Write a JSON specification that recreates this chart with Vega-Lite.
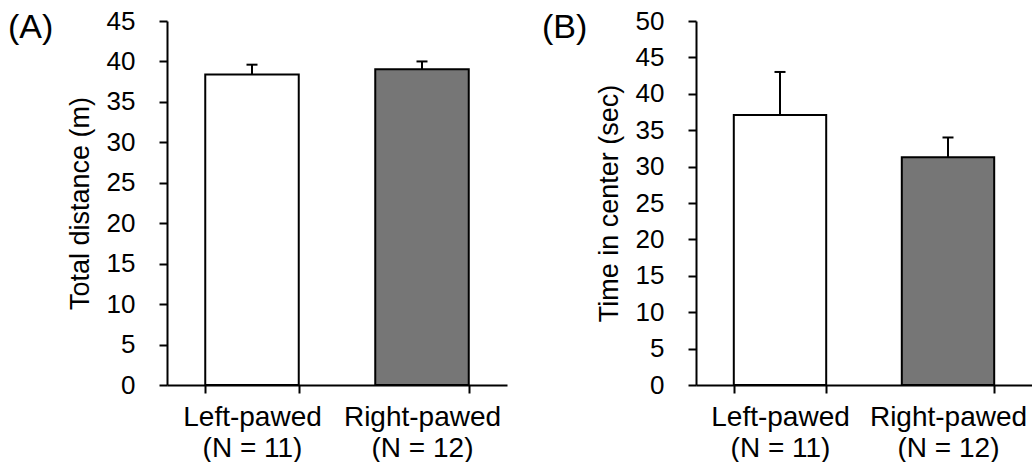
{
  "$schema": "https://vega.github.io/schema/vega-lite/v6.json",
  "background": "white",
  "padding": {"left": 8, "top": 8, "right": 0, "bottom": 0},
  "spacing": 35,
  "config": {
    "font": "Liberation Sans",
    "view": {"stroke": null},
    "axis": {
      "domainColor": "black", "domainWidth": 2,
      "tickColor": "black", "tickWidth": 2, "tickSize": 8,
      "labelColor": "black", "titleColor": "black",
      "labelFont": "Liberation Sans", "titleFont": "Liberation Sans",
      "titleFontWeight": "normal", "grid": false, "labelOverlap": false
    },
    "axisY": {"labelFontSize": 26, "labelPadding": 24, "titleFontSize": 27, "titlePadding": 12, "labelOverlap": false}
  },
  "datasets": {
    "bars": [
      {"panel": "A", "group": "Left-pawed\n(N = 11)", "mean": 38.4, "upper": 39.6},
      {"panel": "A", "group": "Right-pawed\n(N = 12)", "mean": 39.05, "upper": 40.0},
      {"panel": "B", "group": "Left-pawed\n(N = 11)", "mean": 37.1, "upper": 43.0},
      {"panel": "B", "group": "Right-pawed\n(N = 12)", "mean": 31.3, "upper": 34.0}
    ]
  },
  "hconcat": [
    {
      "width": 340, "height": 364,
      "title": {"text": "(A)", "anchor": "start", "frame": "group", "fontSize": 34, "fontWeight": "normal", "font": "Liberation Sans", "color": "black", "baseline": "alphabetic", "dx": -159, "offset": -64},
      "data": {"name": "bars"},
      "transform": [{"filter": "datum.panel == 'A'"}],
      "encoding": {
        "x": {"field": "group", "type": "nominal", "sort": null,
          "scale": {"paddingInner": 0.45, "paddingOuter": 0.225},
          "axis": {"title": null, "labelAngle": 0, "labelFontSize": 28, "labelLineHeight": 31, "labelPadding": 10, "tickBand": "extent", "labelExpr": "split(datum.label, '\\n')"}}
      },
      "layer": [
        {"mark": {"type": "bar", "stroke": "black", "strokeWidth": 2},
         "encoding": {
           "y": {"field": "mean", "type": "quantitative", "scale": {"domain": [0, 45]},
             "axis": {"values": [0,5,10,15,20,25,30,35,40,45], "title": "Total distance (m)"}},
           "fill": {"field": "group", "type": "nominal", "sort": null, "scale": {"range": ["white", "#767676"]}, "legend": null}}},
        {"mark": {"type": "rule", "strokeWidth": 2, "color": "black"},
         "encoding": {"y": {"field": "mean", "type": "quantitative", "axis": {"values": [0,5,10,15,20,25,30,35,40,45], "title": "Total distance (m)"}}, "y2": {"field": "upper"}}},
        {"mark": {"type": "tick", "thickness": 2, "size": 11, "color": "black", "opacity": 1},
         "encoding": {"y": {"field": "upper", "type": "quantitative", "axis": {"values": [0,5,10,15,20,25,30,35,40,45], "title": "Total distance (m)"}}}}
      ]
    },
    {
      "width": 336, "height": 364,
      "title": {"text": "(B)", "anchor": "start", "frame": "group", "fontSize": 34, "fontWeight": "normal", "font": "Liberation Sans", "color": "black", "baseline": "alphabetic", "dx": -154, "offset": -64},
      "data": {"name": "bars"},
      "transform": [{"filter": "datum.panel == 'B'"}],
      "encoding": {
        "x": {"field": "group", "type": "nominal", "sort": null,
          "scale": {"paddingInner": 0.45, "paddingOuter": 0.225},
          "axis": {"title": null, "labelAngle": 0, "labelFontSize": 28, "labelLineHeight": 31, "labelPadding": 10, "tickBand": "extent", "labelExpr": "split(datum.label, '\\n')"}}
      },
      "layer": [
        {"mark": {"type": "bar", "stroke": "black", "strokeWidth": 2},
         "encoding": {
           "y": {"field": "mean", "type": "quantitative", "scale": {"domain": [0, 50]},
             "axis": {"values": [0,5,10,15,20,25,30,35,40,45,50], "title": "Time in center (sec)"}},
           "fill": {"field": "group", "type": "nominal", "sort": null, "scale": {"range": ["white", "#767676"]}, "legend": null}}},
        {"mark": {"type": "rule", "strokeWidth": 2, "color": "black"},
         "encoding": {"y": {"field": "mean", "type": "quantitative", "axis": {"values": [0,5,10,15,20,25,30,35,40,45,50], "title": "Time in center (sec)"}}, "y2": {"field": "upper"}}},
        {"mark": {"type": "tick", "thickness": 2, "size": 11, "color": "black", "opacity": 1},
         "encoding": {"y": {"field": "upper", "type": "quantitative", "axis": {"values": [0,5,10,15,20,25,30,35,40,45,50], "title": "Time in center (sec)"}}}}
      ]
    }
  ]
}
